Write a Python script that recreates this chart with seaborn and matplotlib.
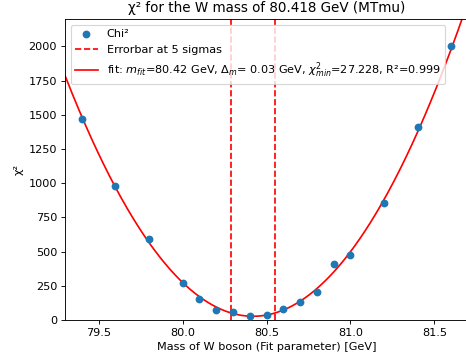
import numpy as np
import pandas as pd
import matplotlib
matplotlib.use("Agg")
import matplotlib.pyplot as plt
import seaborn as sns

# Data
mass = [79.4, 79.6, 79.8, 80.0, 80.1, 80.2, 80.3, 80.4, 80.5, 80.6, 80.7, 80.8, 80.9, 81.0, 81.2, 81.4, 81.6]
chi2 = [1469, 979, 592, 268, 156, 73, 61, 26, 34, 80, 134, 207, 406, 477, 857, 1411, 2000]

# Fit parameters (parabola chi2 = chi2_min + ((m - m_fit)/delta)^2)
m_fit = 80.42
delta_m = 0.0267
chi2_min = 27.228
n_sigma = 5

title = "χ² for the W mass of 80.418 GeV (MTmu)"
xlabel = "Mass of W boson (Fit parameter) [GeV]"
ylabel = "χ²"
fit_label = r"fit: $m_{fit}$=80.42 GeV, $\Delta_m$= 0.03 GeV, $\chi^2_{min}$=27.228, R²=0.999"

df = pd.DataFrame({"mass": mass, "chi2": chi2})
xfit = np.linspace(79.3, 81.7, 400)
fit_df = pd.DataFrame({"x": xfit, "y": chi2_min + ((xfit - m_fit) / delta_m) ** 2})

W, H, DPI = 466, 364, 81
fig = plt.figure(figsize=(W / DPI, H / DPI), dpi=DPI)
ax = fig.add_axes([65 / W, (H - 320) / H, (468 - 65) / W, (320 - 19) / H])

sns.scatterplot(data=df, x="mass", y="chi2", ax=ax, color="#1f77b4",
                s=48, linewidth=0, legend=False, zorder=3)
v1 = ax.axvline(m_fit - n_sigma * delta_m, color="red", ls="--", lw=1.5)
ax.axvline(m_fit + n_sigma * delta_m, color="red", ls="--", lw=1.5)
sns.lineplot(data=fit_df, x="x", y="y", ax=ax, color="red", lw=1.5, legend=False)
fit_line = ax.lines[-1]

handles = [ax.collections[0], v1, fit_line]
labels = ["Chi²", "Errorbar at 5 sigmas", fit_label]
ax.legend(handles, labels, loc="upper left")

ax.set_xlim(79.3, 81.7)
ax.set_ylim(0, 2200)
ax.set_xticks([79.5, 80.0, 80.5, 81.0, 81.5])
ax.set_yticks([0, 250, 500, 750, 1000, 1250, 1500, 1750, 2000])
ax.set_title(title, fontsize=12)
ax.set_xlabel(xlabel)
ax.set_ylabel(ylabel)

fig.savefig("out.png", dpi=DPI)
